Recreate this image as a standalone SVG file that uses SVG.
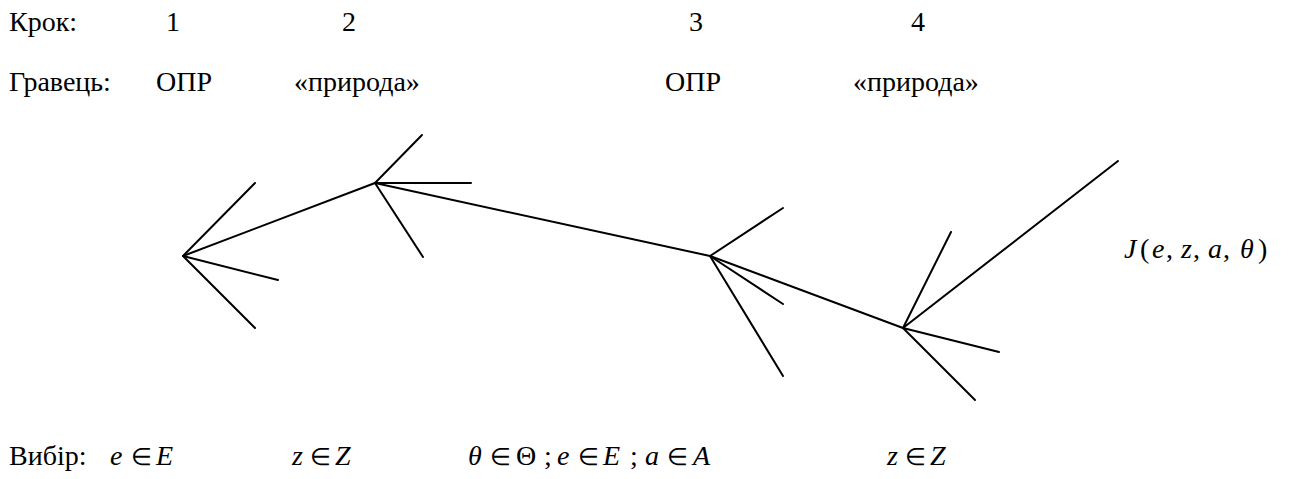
<svg xmlns="http://www.w3.org/2000/svg" width="1293" height="479" viewBox="0 0 1293 479">
<style>
text{font-family:'Liberation Serif','Times New Roman',serif;font-size:28px;fill:#000}
.i{font-style:italic}
.s{font-size:24px}
line{stroke:#000;stroke-width:2;stroke-linecap:round}
</style>
<rect width="1293" height="479" fill="#fff"/>
<g id="labels-top">
<text x="9" y="31">Крок:</text>
<text x="166" y="31">1</text>
<text x="342" y="31">2</text>
<text x="689" y="31">3</text>
<text x="911" y="31">4</text>
<text x="9" y="91">Гравець:</text>
<text x="156" y="91">ОПР</text>
<text x="294" y="91">«природа»</text>
<text x="665" y="91">ОПР</text>
<text x="853" y="91">«природа»</text>
</g>
<g id="connectors">
<line x1="183" y1="256" x2="375" y2="183"/>
<line x1="375" y1="183" x2="710" y2="256"/>
<line x1="710" y1="256" x2="903" y2="328"/>
</g>
<g id="node-A">
<line x1="183" y1="256" x2="255" y2="183"/>
<line x1="183" y1="256" x2="278" y2="280"/>
<line x1="183" y1="256" x2="255" y2="328"/>
</g>
<g id="node-B">
<line x1="375" y1="183" x2="422" y2="135"/>
<line x1="375" y1="183" x2="471" y2="183"/>
<line x1="375" y1="183" x2="423" y2="257"/>
</g>
<g id="node-C">
<line x1="710" y1="256" x2="783" y2="208"/>
<line x1="710" y1="256" x2="783" y2="304"/>
<line x1="710" y1="256" x2="783" y2="376"/>
</g>
<g id="node-D">
<line x1="903" y1="328" x2="951" y2="232"/>
<line x1="903" y1="328" x2="1118" y2="161"/>
<line x1="903" y1="328" x2="999" y2="352"/>
<line x1="903" y1="328" x2="975" y2="400"/>
</g>
<g id="payoff">
<text y="258"><tspan class="i" x="1124">J</tspan><tspan x="1140">(</tspan><tspan class="i" x="1152">e</tspan><tspan x="1166">,</tspan><tspan class="i" x="1181">z</tspan><tspan x="1193">,</tspan><tspan class="i" x="1208">a</tspan><tspan x="1223">,</tspan><tspan class="i" x="1240">θ</tspan><tspan x="1258">)</tspan></text>
</g>
<g id="labels-bottom">
<text x="9" y="465">Вибір:</text>
<text y="465"><tspan class="i" x="110">e</tspan><tspan class="s" x="131">∈</tspan><tspan class="i" x="156">E</tspan></text>
<text y="465"><tspan class="i" x="292">z</tspan><tspan class="s" x="310">∈</tspan><tspan class="i" x="335">Z</tspan></text>
<text y="465"><tspan class="i" x="468">θ</tspan><tspan class="s" x="490">∈</tspan><tspan x="516">Θ</tspan><tspan x="544">;</tspan><tspan class="i" x="557">e</tspan><tspan class="s" x="578">∈</tspan><tspan class="i" x="603">E</tspan><tspan x="630">;</tspan><tspan class="i" x="645">a</tspan><tspan class="s" x="667">∈</tspan><tspan class="i" x="693">A</tspan></text>
<text y="465"><tspan class="i" x="887">z</tspan><tspan class="s" x="905">∈</tspan><tspan class="i" x="930">Z</tspan></text>
</g>
</svg>
